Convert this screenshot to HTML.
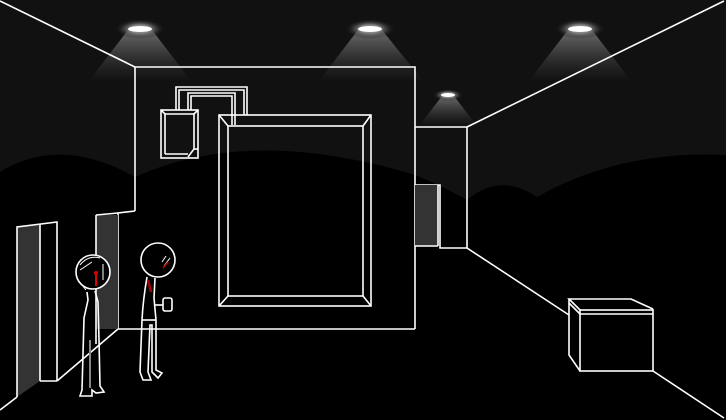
<!DOCTYPE html>
<html><head><meta charset="utf-8"><style>html,body{margin:0;padding:0;background:#000}svg{display:block}</style></head>
<body>
<svg width="726" height="420" viewBox="0 0 726 420" xmlns="http://www.w3.org/2000/svg">
<defs>
<linearGradient id="cone" x1="0" y1="0" x2="0" y2="1">
<stop offset="0" stop-color="#777" stop-opacity="0.9"/>
<stop offset="1" stop-color="#444" stop-opacity="0"/>
</linearGradient>
<radialGradient id="glow"><stop offset="0.4" stop-color="#888"/><stop offset="1" stop-color="#111" stop-opacity="0"/></radialGradient>
</defs>
<rect width="726" height="420" fill="#111"/>
<g>
<polygon points="128,30 152,30 192,82 88,82" fill="url(#cone)"/>
<ellipse cx="140" cy="29" rx="25" ry="10" fill="url(#glow)"/><ellipse cx="140" cy="29" rx="12" ry="3" fill="#fff"/>
<polygon points="358,30 382,30 424,82 318,82" fill="url(#cone)"/>
<ellipse cx="370" cy="29" rx="25" ry="10" fill="url(#glow)"/><ellipse cx="370" cy="29" rx="12" ry="3" fill="#fff"/>
<polygon points="568,30 592,30 632,82 528,82" fill="url(#cone)"/>
<ellipse cx="580" cy="29" rx="25" ry="10" fill="url(#glow)"/><ellipse cx="580" cy="29" rx="12" ry="3" fill="#fff"/>
<polygon points="442,96 454,96 477,126 419,126" fill="url(#cone)"/>
<ellipse cx="448" cy="95" rx="15" ry="6" fill="url(#glow)"/><ellipse cx="448" cy="95" rx="7" ry="2" fill="#fff"/>
</g>
<path d="M0,172 Q60,135 135,177 Q250,125 415,175 Q440,185 467,200 Q500,172 537,197 Q620,150 726,155 L726,420 L0,420 Z" fill="#000"/>
<g fill="none" stroke="#fff" stroke-width="1.6">
<line x1="0" y1="1" x2="135" y2="67"/>
<polyline points="135,211 135,67 415,67 415,329"/>
<polyline points="135,211 118,213 118,329 415,329"/>
<rect x="96" y="215" width="22" height="114" fill="#333" stroke="none"/>
<polyline points="96,215 118,213"/>
<line x1="96" y1="215" x2="96" y2="344"/>
<polyline points="118,329 57,381"/>
<polyline points="57,381 40,381"/>
<polygon points="17,227 40,224 40,381 17,397" fill="#333" stroke="none"/>
<polyline points="17,397 17,227 57,222 57,381"/>
<line x1="40" y1="224" x2="40" y2="381"/>
<line x1="17" y1="397" x2="0" y2="410"/>
<line x1="467" y1="127" x2="724" y2="1"/>
<polyline points="415,127 467,127 467,248 440,248 440,185 415,185"/>
<rect x="415" y="185" width="23" height="61" fill="#333" stroke="none"/>
<line x1="415" y1="246" x2="438" y2="246"/>
<line x1="438" y1="185" x2="438" y2="246"/>
<line x1="467" y1="248" x2="569" y2="315"/>
<rect x="580" y="310" width="73" height="61"/>
<line x1="580" y1="314" x2="653" y2="314"/>
<polyline points="580,310 569,299 631,299 653,309"/>
<polyline points="569,299 569,355 580,371"/>
<line x1="569" y1="303" x2="580" y2="314"/>
<line x1="653" y1="371" x2="724" y2="418"/>
<rect x="219" y="115" width="152" height="191"/>
<rect x="228" y="126" width="135" height="170"/>
<line x1="219" y1="115" x2="228" y2="126"/><line x1="371" y1="115" x2="363" y2="126"/>
<line x1="219" y1="306" x2="228" y2="296"/><line x1="371" y1="306" x2="363" y2="296"/>
<polyline points="176,110 176,87 247,87 247,115"/>
<polyline points="188,110 188,93 235,93 235,125"/>
<polyline points="179,110 179,90 244,90 244,115"/>
<polyline points="191,110 191,96 232,96 232,125"/>
<rect x="161" y="110" width="37" height="48"/>
<polyline points="165,154 165,114 194,114 194,149 188,157"/>
<line x1="165" y1="154" x2="188" y2="154"/>
<line x1="161" y1="110" x2="165" y2="114"/><line x1="198" y1="110" x2="194" y2="114"/>
<line x1="198" y1="149" x2="194" y2="149"/>
<circle cx="93" cy="272" r="17" fill="#000"/>
<path d="M80,265 Q88,255 100,258 M78,280 L86,290 M92,262 L80,270" stroke-width="1"/>
<path d="M87,292 L88,300 L84,318 L82,390 L80,396 L92,396 L92,390 L96,393 L104,392 L100,386 L99,340 L98,302 L95,291"/>
<line x1="90" y1="340" x2="90" y2="388" stroke="#888" stroke-width="2"/>
<line x1="103" y1="264" x2="103" y2="280" stroke-width="1"/>
<circle cx="158" cy="260" r="17" fill="#000"/>
<path d="M162,262 L166,256 M164,266 L170,258" stroke-width="1"/>
<path d="M147,277 Q143,300 142,320 L140,372 L143,380 L151,380 L148,372 L150,325 L152,325 L152,372 L158,378 L162,373 L156,370 L156,320 L154,298 L155,278"/>
<line x1="142" y1="320" x2="156" y2="320"/>
<line x1="154" y1="305" x2="163" y2="305"/>
<rect x="163" y="298" width="9" height="13" rx="2"/>
</g>
<line x1="96" y1="273" x2="96" y2="286" stroke="#d00" stroke-width="2"/>
<circle cx="96" cy="273" r="2" fill="#d00"/>
<path d="M148,280 L151,292" stroke="#a00" stroke-width="2.5"/>
<path d="M163,268 L168,262" stroke="#c00" stroke-width="1.5"/>
</svg>
</body></html>
